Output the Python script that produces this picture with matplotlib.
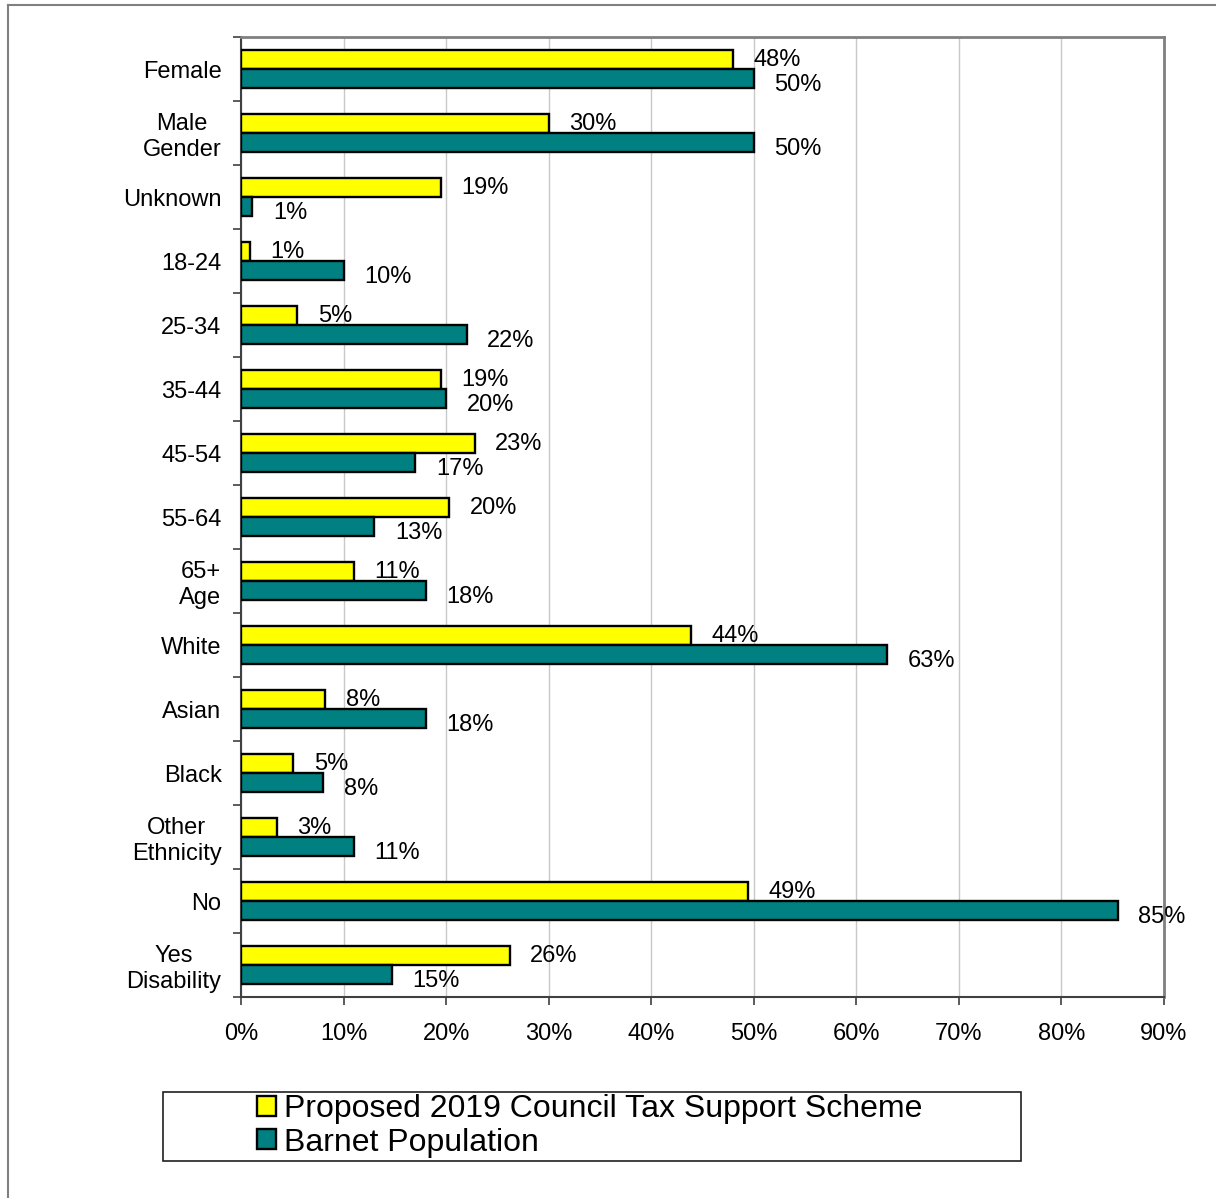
import matplotlib.pyplot as plt
import numpy as np
from matplotlib.patches import Rectangle
from matplotlib.lines import Line2D

plt.rcParams['font.family'] = ['Liberation Sans', 'DejaVu Sans']

categories = ['Female', 'Male\nGender', 'Unknown', '18-24', '25-34', '35-44', '45-54',
              '55-64', '65+\nAge', 'White', 'Asian', 'Black', 'Other\nEthnicity',
              'No', 'Yes\nDisability']
scheme = [48, 30, 19.5, 0.9, 5.5, 19.5, 22.8, 20.3, 11, 43.9, 8.2, 5.1, 3.5, 49.4, 26.2]
scheme_labels = ['48%', '30%', '19%', '1%', '5%', '19%', '23%', '20%', '11%', '44%',
                 '8%', '5%', '3%', '49%', '26%']
barnet = [50, 50, 1.1, 10, 22, 20, 17, 13, 18, 63, 18, 8, 11, 85.5, 14.7]
barnet_labels = ['50%', '50%', '1%', '10%', '22%', '20%', '17%', '13%', '18%', '63%',
                 '18%', '8%', '11%', '85%', '15%']

fig = plt.figure(figsize=(12.16, 11.98), dpi=100)
ax = fig.add_axes([241 / 1216, 1 - 997 / 1198, (1164 - 241) / 1216, (997 - 37) / 1198])

y = np.arange(len(categories))
h = 0.29
ax.barh(y - h / 2, scheme, height=h, color='#FFFF00', edgecolor='black', linewidth=1.7,
        label='Proposed 2019 Council Tax Support Scheme', zorder=3)
ax.barh(y + h / 2, barnet, height=h, color='#008080', edgecolor='black', linewidth=1.7,
        label='Barnet Population', zorder=3)

for i in range(len(categories)):
    ax.text(scheme[i] + 2, y[i] - h / 2, scheme_labels[i], va='center', ha='left', fontsize=17)
    ax.text(barnet[i] + 2, y[i] + h / 2 + 0.1, barnet_labels[i], va='center', ha='left', fontsize=17)

ax.set_xlim(0, 90)
ax.set_ylim(len(categories) - 0.5, -0.5)
ax.set_xticks(np.arange(0, 91, 10))
ax.set_xticklabels([f'{v}%' for v in range(0, 91, 10)], fontsize=17)
ax.tick_params(axis='x', direction='out', length=6, width=1.2, pad=13, color='#404040')

ax.set_yticks(np.arange(-0.5, len(categories), 1))
ax.set_yticklabels([])
ax.set_yticks(y, minor=True)
ax.set_yticklabels(categories, minor=True, fontsize=17, multialignment='center')
ax.tick_params(axis='y', which='major', direction='out', length=6, width=1.2, color='#404040')
ax.tick_params(axis='y', which='minor', length=0, pad=14)

ax.grid(axis='x', color='#C8C8C8', linewidth=1, zorder=0)
for side in ['top', 'right']:
    ax.spines[side].set_color('#808080')
    ax.spines[side].set_linewidth(2)
for side in ['left', 'bottom']:
    ax.spines[side].set_color('#404040')
    ax.spines[side].set_linewidth(1.5)

# legend box
fig.patches.append(Rectangle((163 / 1216, 1 - 1161 / 1198), (1021 - 163) / 1216, (1161 - 1092) / 1198,
                             transform=fig.transFigure, facecolor='white', edgecolor='#202020',
                             linewidth=1.2))
fig.legend(loc='center', bbox_to_anchor=(590 / 1216, 1 - 1126 / 1198), frameon=False,
           fontsize=23, handlelength=0.6, handleheight=0.6, handletextpad=0.25,
           labelspacing=0.1, borderpad=0)

# outer border
fig.add_artist(Line2D([8 / 1216, 8 / 1216], [0, 1 - 5 / 1198], transform=fig.transFigure,
                      color='#808080', linewidth=1.5))
fig.add_artist(Line2D([8 / 1216, 1], [1 - 5 / 1198, 1 - 5 / 1198], transform=fig.transFigure,
                      color='#808080', linewidth=1.5))

fig.savefig('out.png', dpi=100)
